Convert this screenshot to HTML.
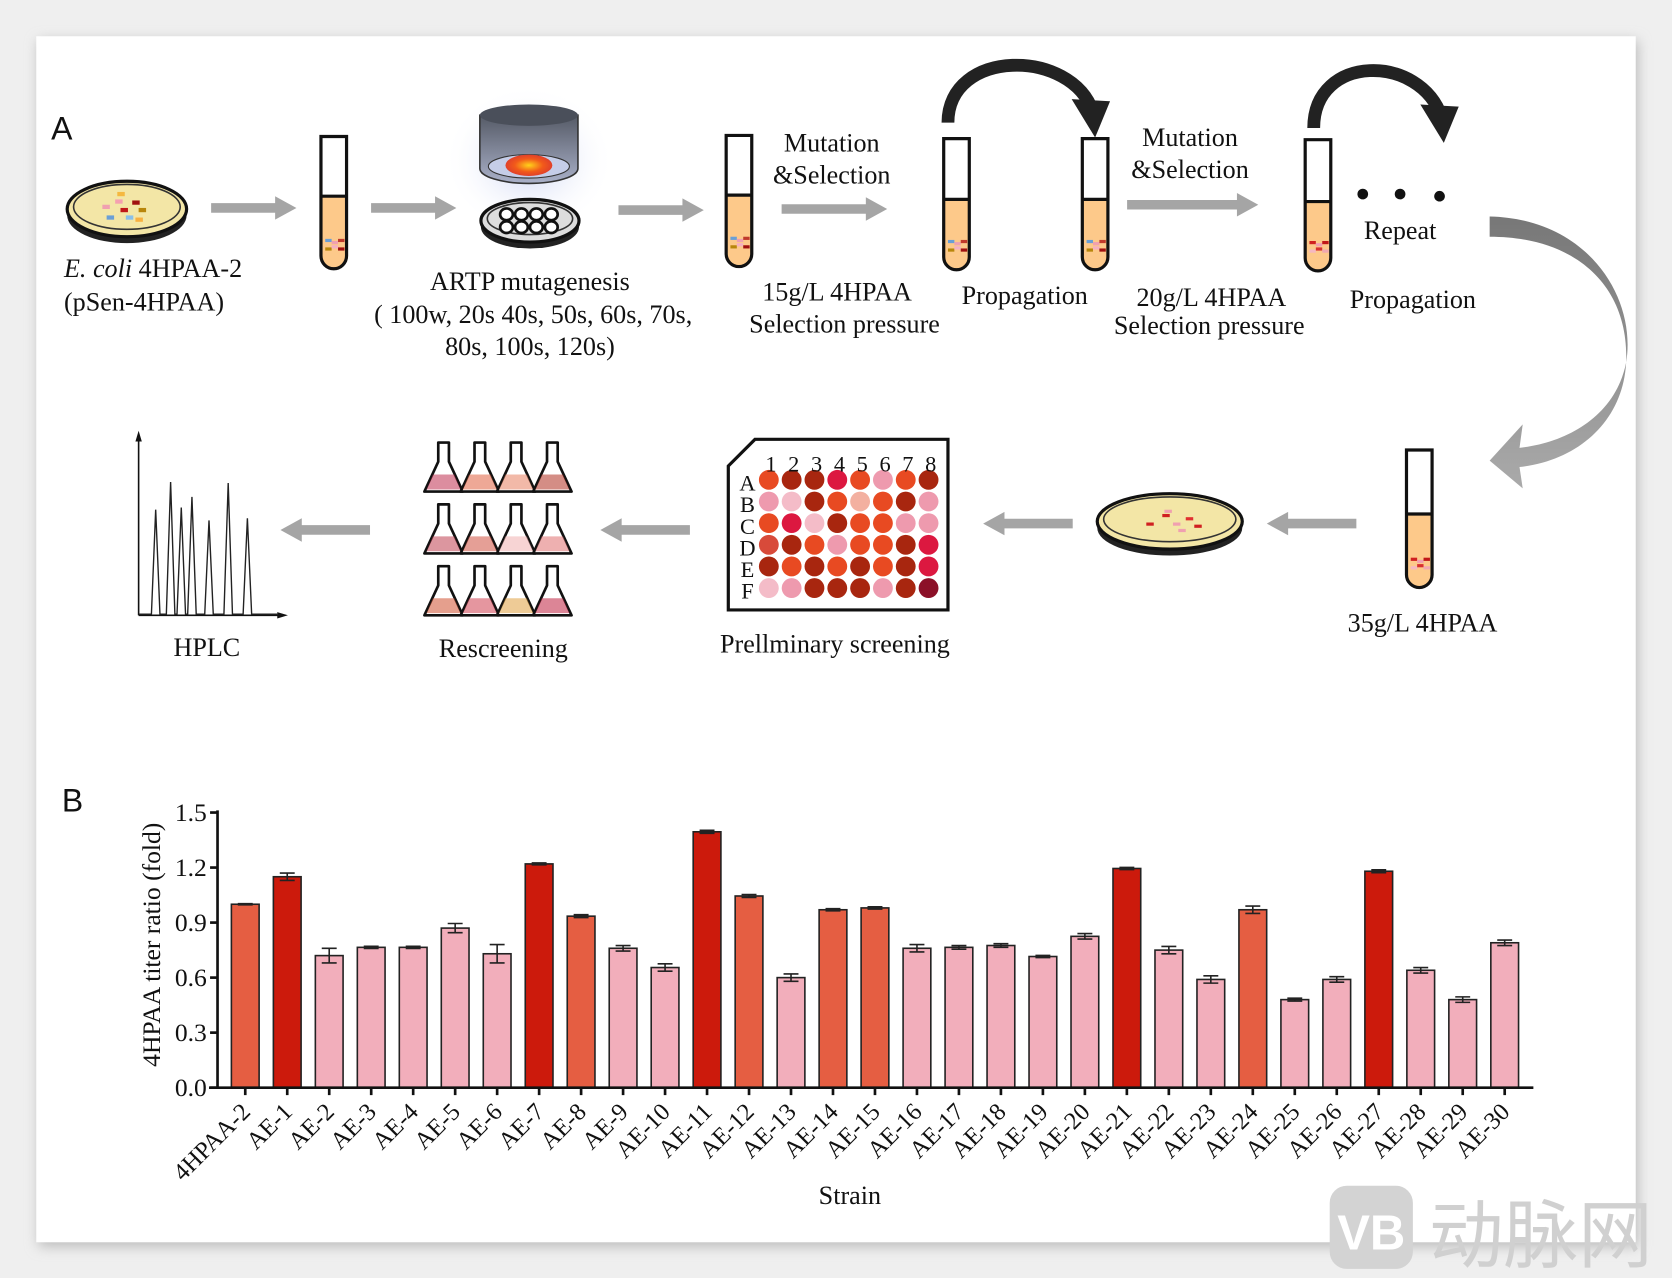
<!DOCTYPE html>
<html><head><meta charset="utf-8"><style>
html,body{margin:0;padding:0;background:#efefef;}
svg{display:block;}
text{font-family:"Liberation Serif",serif;fill:#111;}
</style></head><body>
<svg id="s" width="1672" height="1278" viewBox="0 0 1568 1198.5" xmlns="http://www.w3.org/2000/svg">
<defs>
<filter id="sh" x="-5%" y="-5%" width="110%" height="110%"><feGaussianBlur stdDeviation="6"/></filter>
<radialGradient id="fire"><stop offset="0" stop-color="#ffd21a"/><stop offset="0.6" stop-color="#f25a1a"/><stop offset="1" stop-color="#e0402a"/></radialGradient>
<linearGradient id="cyl" x1="0" y1="0" x2="0" y2="1"><stop offset="0" stop-color="#555a66"/><stop offset="1" stop-color="#a9b0c8"/></linearGradient>
<radialGradient id="glow"><stop offset="0" stop-color="#b9c4ee" stop-opacity="0.8"/><stop offset="1" stop-color="#ffffff" stop-opacity="0"/></radialGradient>
<linearGradient id="gc" x1="0" y1="0" x2="0" y2="1"><stop offset="0" stop-color="#777"/><stop offset="1" stop-color="#aaa"/></linearGradient>
</defs>
<rect x="0" y="0" width="1568" height="1200" fill="#efefef"/>
<rect x="36" y="38" width="1500" height="1131" fill="#bbb" filter="url(#sh)"/>
<rect x="34" y="34" width="1500" height="1131" fill="#fff"/>
<g id="g"></g>
<text x="48" y="131" style="font-family:'Liberation Sans',sans-serif" font-size="30">A</text>
<text x="58" y="761" style="font-family:'Liberation Sans',sans-serif" font-size="30">B</text>
<g font-size="24.5">
<text x="60" y="260"><tspan font-style="italic">E. coli</tspan> 4HPAA-2</text>
<text x="60" y="291">(pSen-4HPAA)</text>
<text x="497" y="272" text-anchor="middle">ARTP mutagenesis</text>
<text x="500" y="303" text-anchor="middle">( 100w, 20s 40s, 50s, 60s, 70s,</text>
<text x="497" y="333" text-anchor="middle">80s, 100s, 120s)</text>
<text x="780" y="142" text-anchor="middle">Mutation</text>
<text x="780" y="172" text-anchor="middle">&amp;Selection</text>
<text x="785" y="282" text-anchor="middle">15g/L 4HPAA</text>
<text x="792" y="312" text-anchor="middle">Selection pressure</text>
<text x="961" y="285" text-anchor="middle">Propagation</text>
<text x="1116" y="137" text-anchor="middle">Mutation</text>
<text x="1116" y="167" text-anchor="middle">&amp;Selection</text>
<text x="1136" y="287" text-anchor="middle">20g/L 4HPAA</text>
<text x="1134" y="313" text-anchor="middle">Selection pressure</text>
<text x="1313" y="224" text-anchor="middle">Repeat</text>
<text x="1325" y="289" text-anchor="middle">Propagation</text>
<text x="1334" y="592" text-anchor="middle">35g/L 4HPAA</text>
<text x="783" y="612" text-anchor="middle">Prellminary screening</text>
<text x="472" y="616" text-anchor="middle">Rescreening</text>
<text x="194" y="615" text-anchor="middle">HPLC</text>
<text x="797" y="1129" text-anchor="middle">Strain</text>
<text transform="translate(150,886) rotate(-90)" text-anchor="middle" font-size="24">4HPAA titer ratio (fold)</text>
</g>
<rect x="1247" y="1112" width="78" height="78" rx="16" fill="#d3d3d3"/>
<text x="1286" y="1172" text-anchor="middle" font-size="46" font-weight="bold" style="fill:#fff;font-family:'Liberation Sans',sans-serif">VB</text>
<text x="1340" y="1183" font-size="70" style="fill:#d0d0d0;font-family:'Noto Sans CJK SC',sans-serif">动脉网</text>
</svg>
<script>
const NS="http://www.w3.org/2000/svg",G=document.getElementById('g');
function el(t,a,p){const e=document.createElementNS(NS,t);for(const k in a)e.setAttribute(k,a[k]);(p||G).appendChild(e);return e;}
function tx(x,y,s,a){const e=el('text',Object.assign({x:x,y:y},a||{}));e.textContent=s;return e;}
function garrow(x1,x2,y){const d=x2>x1?1:-1;el('line',{x1:x1,y1:y,x2:x2-d*16,y2:y,stroke:'#a5a5a5','stroke-width':9});el('polygon',{points:`${x2},${y} ${x2-d*20},${y-11} ${x2-d*20},${y+11}`,fill:'#a5a5a5'});}
[[198,278,195],[348,428,195],[580,660,197],[733,832,196],[1057,1180,192],[1272,1188,491],[1006,922,491],[647,563,497],[347,263,497]].forEach(a=>garrow(...a));
function tube(x,t,b,l,cols){el('path',{d:`M${x-12},${l} L${x+12},${l} L${x+12},${b-12} A12,12 0 0 1 ${x-12},${b-12} Z`,fill:'#fdc98a'});el('path',{d:`M${x-12},${t} L${x+12},${t} L${x+12},${b-12} A12,12 0 0 1 ${x-12},${b-12} Z`,fill:'none',stroke:'#111','stroke-width':3});el('line',{x1:x-12,y1:l,x2:x+12,y2:l,stroke:'#111','stroke-width':3});
 cols.forEach((c,i)=>el('rect',{x:x-8+(i%3)*6,y:b-28+Math.floor(i/3)*6+(i%2)*2,width:6,height:3,fill:c}));}
const mix=['#6a9fd6','#f0a0b0','#c0392b','#b8860b','#f5b0c0','#a01010'],red=['#d02020','#f0a0b0','#c01818','#f5b8c0','#d83030','#f0a8b0'];
tube(313,128,252,184,mix);tube(693,127,250,183,mix);tube(897,130,253,187,mix);tube(1027,130,253,187,mix);tube(1236,131,254,189,red);tube(1331,422,551,482,red);
function dish(cx,cy,rx,ry,fill){el('ellipse',{cx:cx,cy:cy+6,rx:rx,ry:ry,fill:'#222'});el('ellipse',{cx:cx,cy:cy+3,rx:rx-2,ry:ry-2,fill:'#fff'});el('ellipse',{cx:cx,cy:cy,rx:rx,ry:ry,fill:fill,stroke:'#111','stroke-width':3});el('ellipse',{cx:cx,cy:cy-2,rx:rx-6,ry:ry-5,fill:'none',stroke:'#333','stroke-width':1.5});}
dish(119,196,56,26,'#f3e6a6');
[[96,192,'#f0a0b0'],[108,187,'#f5a0b0'],[113,195,'#c01818'],[124,188,'#a01010'],[130,195,'#b8860b'],[100,202,'#6a9fd6'],[118,202,'#8ac0e8'],[127,204,'#f8b040'],[110,180,'#f5b840']].forEach(a=>el('rect',{x:a[0],y:a[1],width:7,height:4,fill:a[2]}));
dish(1097,489,68,26,'#f3e6a6');
[[1075,490,'#d02020'],[1090,482,'#d02020'],[1100,490,'#f0a0b0'],[1112,485,'#e03030'],[1105,496,'#f0a0b0'],[1120,492,'#d02020'],[1092,478,'#f0a0b0']].forEach(a=>el('rect',{x:a[0],y:a[1],width:7,height:3,fill:a[2]}));
el('ellipse',{cx:496,cy:150,rx:80,ry:70,fill:'url(#glow)'});
el('path',{d:'M450,108 L542,108 L542,158 A46,14 0 0 1 450,158 Z',fill:'url(#cyl)',stroke:'#333','stroke-width':1.5});
el('ellipse',{cx:496,cy:108,rx:46,ry:10,fill:'#4a4f5a'});
el('ellipse',{cx:496,cy:156,rx:38,ry:11,fill:'#c5cde8',stroke:'#333'});
el('ellipse',{cx:496,cy:155,rx:22,ry:10,fill:'url(#fire)'});
dish(497,207,46,20,'#ddd');
for(let r=0;r<2;r++)for(let c=0;c<4;c++)el('ellipse',{cx:475+c*14,cy:201+r*12,rx:6,ry:5.5,fill:'#fff',stroke:'#111','stroke-width':2.5});
function carrow(x1,x2,top,y){el('path',{d:`M${x1},${y} C${x1},${top} ${x2-20},${top} ${x2},${y-10}`,fill:'none',stroke:'#222','stroke-width':12});el('polygon',{points:`${x2-20},${y-22} ${x2+16},${y-20} ${x2+2},${y+14}`,fill:'#222'});}
carrow(889,1025,45,115);carrow(1232,1352,50,120);
el('circle',{cx:1278,cy:182,r:5,fill:'#111'});el('circle',{cx:1313,cy:182,r:5,fill:'#111'});el('circle',{cx:1350,cy:184,r:5,fill:'#111'});
el('path',{d:'M1397,203 C1490,205 1535,280 1525,340 C1515,390 1470,415 1425,420 L1428,398 L1397,432 L1428,458 L1425,438 C1480,432 1522,395 1525,340 C1528,270 1480,222 1397,222 Z',fill:'url(#gc)'});
el('path',{d:'M708,412 L889,412 L889,572 L683,572 L683,437 Z',fill:'#fff',stroke:'#111','stroke-width':3});
const C={O:'#e84a22',D:'#a8260f',R:'#dc1840',P:'#ee9aae',L:'#f4bcc8',S:'#f3b0a0',Q:'#d84a3a',M:'#8c1028'};
['ODDROPOD','PLDOSODP','ORLDOOPP','QDOPOODR','DODODODR','LPDDDPDM'].forEach((row,r)=>{[...row].forEach((k,c)=>el('circle',{cx:721+c*21.4,cy:450+r*20.3,r:9.3,fill:C[k]}));tx(701,460+r*20.3,'ABCDEF'[r],{'font-size':21,'text-anchor':'middle'});});
for(let c=0;c<8;c++)tx(723+c*21.4,442,String(c+1),{'font-size':21,'text-anchor':'middle'});
const fc=['#c03050','#e06040','#e88060','#b03020','#c04050','#d05040','#f0b0b0','#e07070','#d05030','#d04050','#e0a040','#c02040'];
for(let r=0;r<3;r++)for(let c=0;c<4;c++){const x=416+c*34,y=415+r*58;el('path',{d:`M${x-5},${y} L${x+5},${y} L${x+5},${y+18} L${x+18},${y+46} L${x-18},${y+46} L${x-5},${y+18} Z`,fill:'#fff',stroke:'#111','stroke-width':2.5,'stroke-linejoin':'round'});el('path',{d:`M${x-10},${y+30} L${x+10},${y+30} L${x+16},${y+44} L${x-16},${y+44} Z`,fill:fc[r*4+c],opacity:0.55});}
el('line',{x1:130,y1:577,x2:130,y2:408,stroke:'#111','stroke-width':1.5});el('polygon',{points:'130,404 127,414 133,414',fill:'#111'});
el('line',{x1:130,y1:577,x2:266,y2:577,stroke:'#111','stroke-width':1.5});el('polygon',{points:'270,577 260,574 260,580',fill:'#111'});
let p='M130,576';[[146,478],[160,452],[170,476],[180,466],[196,488],[214,453],[232,486]].forEach(([x,h])=>{p+=` L${x-4},576 L${x},${h} L${x+4},576`;});p+=' L260,576';el('path',{d:p,fill:'none',stroke:'#222','stroke-width':1.3});
const v=[1.0,1.15,0.72,0.765,0.765,0.87,0.73,1.22,0.935,0.76,0.655,1.395,1.045,0.6,0.97,0.98,0.76,0.765,0.775,0.715,0.825,1.195,0.75,0.59,0.97,0.48,0.59,1.18,0.64,0.48,0.79];
const e=[.003,.02,.04,.006,.006,.025,.05,.005,.008,.015,.02,.008,.008,.02,.006,.006,.02,.01,.01,.006,.015,.006,.02,.02,.02,.008,.015,.008,.015,.015,.015];
const y0=1020,k=258/1.5;
v.forEach((d,i)=>{const x=230+i*39.37,col=d>1.1?'#cc1a0c':(d>0.92?'#e55e42':'#f2aebb');const yt=y0-d*k;
 el('rect',{x:x-13,y:yt,width:26,height:d*k,fill:col,stroke:'#222','stroke-width':1.5});
 if(e[i]>0){const a=y0-(d+e[i])*k,b=y0-(d-e[i])*k;el('path',{d:`M${x},${a} L${x},${b} M${x-7},${a} L${x+7},${a} M${x-7},${b} L${x+7},${b}`,stroke:'#222','stroke-width':1.5});}
 el('line',{x1:x,y1:y0,x2:x,y2:y0+7,stroke:'#111','stroke-width':2.5});
 tx(x+6,y0+24,i==0?'4HPAA-2':'AE-'+i,{'font-size':23,'text-anchor':'end',transform:`rotate(-45 ${x+6} ${y0+24})`});});
el('line',{x1:204,y1:760,x2:204,y2:1021,stroke:'#111','stroke-width':2.5});
el('line',{x1:196,y1:1020,x2:1438,y2:1020,stroke:'#111','stroke-width':2.5});
for(let j=0;j<=5;j++){const y=y0-j*0.3*k;el('line',{x1:197,y1:y,x2:204,y2:y,stroke:'#111','stroke-width':2.5});tx(194,y+8,(j*0.3).toFixed(1),{'font-size':24,'text-anchor':'end'});}
</script>
</body></html>
